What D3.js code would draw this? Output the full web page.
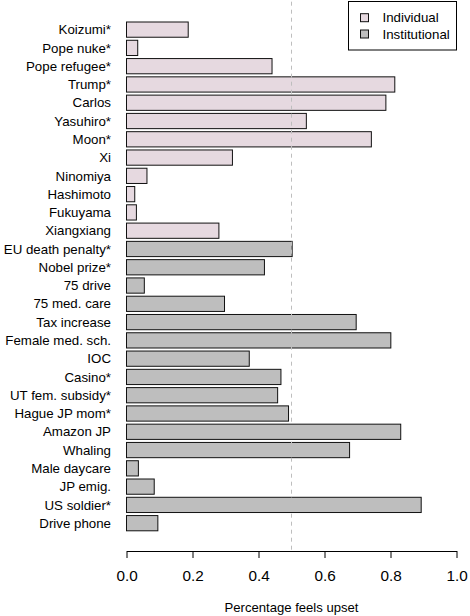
<!DOCTYPE html>
<html>
<head>
<meta charset="utf-8">
<script src="https://cdn.jsdelivr.net/npm/d3@7"></script>
<style>
  html, body { margin: 0; padding: 0; background: #fff; }
  svg { display: block; font-family: "Liberation Sans", Arial, sans-serif; }
</style>
</head>
<body>
<svg id="chart" width="470" height="616"></svg>
<script>
const categories = ["Koizumi*", "Pope nuke*", "Pope refugee*", "Trump*", "Carlos", "Yasuhiro*", "Moon*", "Xi",
  "Ninomiya", "Hashimoto", "Fukuyama", "Xiangxiang", "EU death penalty*", "Nobel prize*", "75 drive",
  "75 med. care", "Tax increase", "Female med. sch.", "IOC", "Casino*", "UT fem. subsidy*", "Hague JP mom*",
  "Amazon JP", "Whaling", "Male daycare", "JP emig.", "US soldier*", "Drive phone"];
const values = [0.187, 0.034, 0.441, 0.813, 0.786, 0.545, 0.742, 0.321,
  0.062, 0.025, 0.030, 0.280, 0.502, 0.418, 0.054,
  0.297, 0.696, 0.801, 0.372, 0.468, 0.458, 0.491,
  0.831, 0.676, 0.036, 0.084, 0.893, 0.095];
const groups = ["Individual","Individual","Individual","Individual","Individual","Individual","Individual","Individual",
  "Individual","Individual","Individual","Individual","Institutional","Institutional","Institutional",
  "Institutional","Institutional","Institutional","Institutional","Institutional","Institutional","Institutional",
  "Institutional","Institutional","Institutional","Institutional","Institutional","Institutional"];
const legendLabels = ["Individual", "Institutional"];
const xTicks = [0, 0.2, 0.4, 0.6, 0.8, 1.0];
const refLine = 0.5;
const xTitle = "Percentage feels upset";

const svg = d3.select("#chart");
const plot = { left: 126.5, right: 456.5, top: 1.7, bottom: 551 };

const x = d3.scaleLinear().domain([0, 1]).range([plot.left, plot.right]);
const y = d3.scaleBand().domain(categories).range([22, 530.8]).paddingInner(1/6).paddingOuter(0);
const color = d3.scaleOrdinal().domain(legendLabels).range(["#E6D9E0", "#BEBEBE"]);

const data = categories.map((c, i) => ({ c, v: values[i], g: groups[i] }));

// bars
svg.append("g").selectAll("rect").data(data).join("rect")
  .attr("x", x(0))
  .attr("y", d => y(d.c))
  .attr("width", d => x(d.v) - x(0))
  .attr("height", y.bandwidth())
  .attr("fill", d => color(d.g))
  .attr("stroke", "#111")
  .attr("stroke-width", 1);

// category labels
svg.append("g").selectAll("text").data(data).join("text")
  .attr("x", 111)
  .attr("y", d => y(d.c) + y.bandwidth() / 2)
  .attr("dy", "0.35em")
  .attr("text-anchor", "end")
  .attr("font-size", "13.3px")
  .attr("fill", "#000")
  .text(d => d.c);

// reference line
svg.append("line")
  .attr("x1", x(refLine)).attr("x2", x(refLine))
  .attr("y1", plot.top).attr("y2", plot.bottom)
  .attr("stroke", "#BEBEBE")
  .attr("stroke-width", 1)
  .attr("stroke-dasharray", "4,4");

// x axis
const axis = d3.axisBottom(x).tickValues(xTicks).tickFormat(d3.format(".1f"))
  .tickSize(7).tickSizeOuter(0).tickPadding(12);
const gx = svg.append("g").attr("transform", `translate(0,${plot.bottom})`).call(axis);
gx.select(".domain").attr("stroke", "#000");
gx.selectAll(".tick line").attr("stroke", "#000");
gx.selectAll(".tick text").attr("font-size", "15.3px").attr("fill", "#000")
  .attr("font-family", "Liberation Sans, Arial, sans-serif");

// axis title
svg.append("text")
  .attr("x", (plot.left + plot.right) / 2)
  .attr("y", 612)
  .attr("text-anchor", "middle")
  .attr("font-size", "13.1px")
  .text(xTitle);

// legend
const lg = svg.append("g");
lg.append("rect")
  .attr("x", 348.5).attr("y", 1.5)
  .attr("width", 108).attr("height", 48.5)
  .attr("fill", "#fff").attr("stroke", "#000").attr("stroke-width", 1);
const items = lg.selectAll("g.item").data(legendLabels).join("g")
  .attr("class", "item")
  .attr("transform", (d, i) => `translate(0,${17.7 + i * 16.3})`);
items.append("rect")
  .attr("x", 360.5).attr("y", -4).attr("width", 8).attr("height", 8)
  .attr("fill", d => color(d)).attr("stroke", "#111");
items.append("text")
  .attr("x", 382.5).attr("y", 0).attr("dy", "0.35em")
  .attr("font-size", "13.3px")
  .text(d => d);
</script>
</body>
</html>
